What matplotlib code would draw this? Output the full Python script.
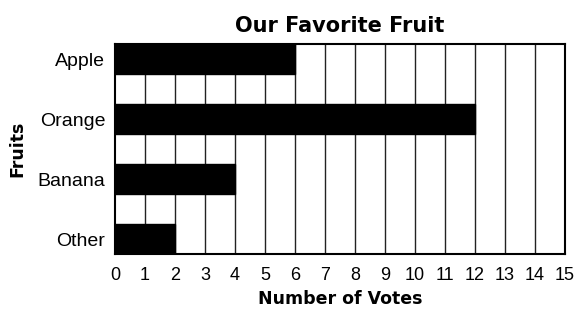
import numpy as np
import matplotlib.pyplot as plt

fruits = ["Other", "Banana", "Orange", "Apple"]
votes = [2, 4, 12, 6]
x_ticks = list(range(0, 16))

plt.rcParams['font.family'] = ['Liberation Sans', 'DejaVu Sans']

fig = plt.figure(figsize=(5.79, 3.10), dpi=100)
ax = fig.add_axes([115 / 579, 1 - 254 / 310, (565 - 115) / 579, (254 - 44) / 310])

# vertical grid lines at each vote
for v in x_ticks[1:-1]:
    ax.axvline(v, color='#222222', lw=1.0, zorder=1)

y = np.arange(len(fruits))
ax.barh(y, votes, height=0.5, color='black', edgecolor='black', zorder=2)

ax.set_xlim(0, 15)
ax.set_ylim(-0.25, len(fruits) - 0.75)
ax.set_xticks(x_ticks)
ax.set_yticks(y)
ax.set_yticklabels(fruits)
ax.tick_params(axis='y', length=0, labelsize=14, pad=7)
ax.tick_params(axis='x', length=0, labelsize=13, pad=9)

for s in ax.spines.values():
    s.set_linewidth(1.5)
    s.set_color('black')

ax.set_title("Our Favorite Fruit", fontsize=15, fontweight='bold', pad=9,
             family=['DejaVu Sans'])
ax.set_xlabel("Number of Votes", fontsize=12.5, fontweight='bold', labelpad=5,
              family=['DejaVu Sans'])
ax.set_ylabel("Fruits", fontsize=12.5, fontweight='bold', labelpad=8,
              family=['DejaVu Sans'])

plt.savefig("out.png", dpi=100)
